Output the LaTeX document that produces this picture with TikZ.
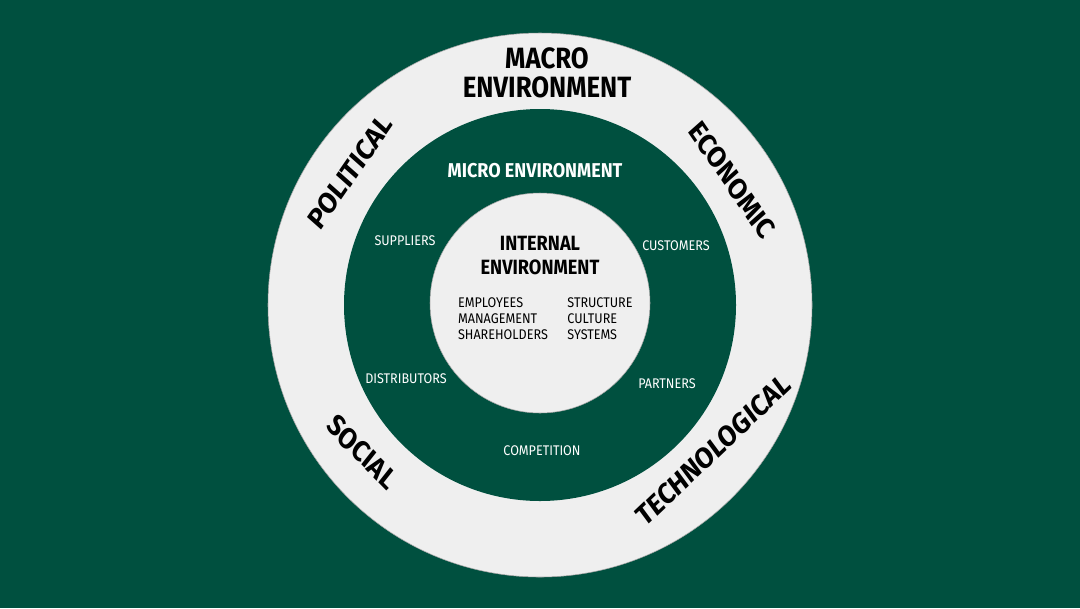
\documentclass[tikz,border=0pt]{standalone}
\usepackage{fontspec}
\setmainfont{Fira Sans}
\definecolor{envgreen}{HTML}{00503F}
\definecolor{envlight}{HTML}{EFEFEF}
\tikzset{
  macrolbl/.style={font=\fontsize{22}{25}\selectfont\bfseries, text=black, align=center, xscale=0.88, transform shape},
  microlbl/.style={font=\fontsize{10.5}{12}\selectfont, text=white, xscale=0.9, transform shape},
  innerlbl/.style={font=\fontsize{10.5}{12}\selectfont, text=black, align=left, xscale=0.9, transform shape}
}
\begin{document}
\begin{tikzpicture}[x=0.75pt,y=-0.75pt]
  \fill[envgreen] (0,0) rectangle (1080,608);
  \useasboundingbox (0,0) rectangle (1080,608);
  % rings
  \fill[envlight, draw=gray!70] (540,305) circle (272);
  \fill[envgreen] (540,305) circle (196);
  \fill[envlight, draw=gray!70] (540,303) circle (110);
  % macro
  \node[macrolbl] (macro) at (547,73) {MACRO\\[-3pt]ENVIRONMENT};
  \node[macrolbl, rotate=52] (political) at (350,172) {POLITICAL};
  \node[macrolbl, rotate=-52] (economic) at (732,180) {ECONOMIC};
  \node[macrolbl, rotate=-42] (social) at (362,452) {SOCIAL};
  \node[macrolbl, rotate=40] (techno) at (713,450) {TECHNOLOGICAL};
  % micro
  \node[microlbl, font=\fontsize{15}{17}\selectfont\bfseries] (micro) at (535,171) {MICRO ENVIRONMENT};
  \node[microlbl] (suppliers) at (405,241) {SUPPLIERS};
  \node[microlbl] (customers) at (676,246) {CUSTOMERS};
  \node[microlbl] (distrib) at (406,379) {DISTRIBUTORS};
  \node[microlbl] (partners) at (667,384) {PARTNERS};
  \node[microlbl] (compet) at (542,451) {COMPETITION};
  % internal
  \node[macrolbl, font=\fontsize{15.5}{18}\selectfont\bfseries] (internal) at (540,256) {INTERNAL\\ENVIRONMENT};
  \node[innerlbl] (people) at (503,319) {EMPLOYEES\\MANAGEMENT\\SHAREHOLDERS};
  \node[innerlbl] (orgs) at (600,319) {STRUCTURE\\CULTURE\\SYSTEMS};
\end{tikzpicture}
\end{document}
